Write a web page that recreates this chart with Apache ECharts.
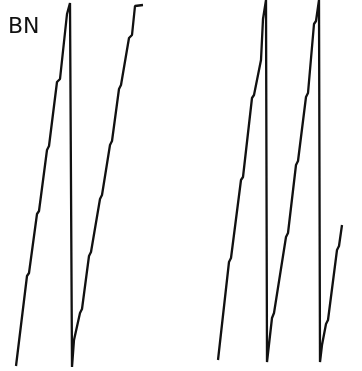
<!DOCTYPE html>
<html>
<head>
<meta charset="utf-8">
<script src="https://cdn.jsdelivr.net/npm/echarts@6/dist/echarts.min.js"></script>
<style>
html,body{margin:0;padding:0;background:#fff;}
#chart{width:362px;height:371px;}
</style>
</head>
<body>
<div id="chart"></div>
<script>
// Trace label
var traceLabel = 'BN';
// Left trace (time, amplitude) — sawtooth with steps
var leftX = [16, 27, 29, 37, 39, 47, 49, 57, 60, 67, 68, 70, 71, 72, 74, 80, 82, 89, 91, 100, 102, 110, 112, 119, 121, 129, 132, 135, 143];
var leftY = [5, 95, 98, 157, 160, 221, 225, 289, 292, 357, 359, 368, 367, 4, 31, 58, 62, 115, 119, 172, 176, 226, 230, 282, 286, 333, 336, 365, 366];
// Right trace
var rightX = [218, 229, 231, 241, 243, 252, 254, 261, 263, 265, 266, 267, 267, 272, 274, 286, 288, 296, 298, 306, 308, 314, 316, 319, 320, 320, 322, 326, 328, 337, 339, 342];
var rightY = [11, 109, 113, 191, 194, 273, 276, 311, 352, 354, 371, 370, 9, 53, 58, 134, 138, 206, 210, 274, 278, 347, 350, 371, 370, 9, 26, 47, 51, 121, 125, 146];

function pairs(xs, ys) { return xs.map(function (x, i) { return [x, ys[i]]; }); }

var chart = echarts.init(document.getElementById('chart'));
chart.setOption({
  animation: false,
  grid: { left: 0, right: 0, top: 0, bottom: 0 },
  xAxis: { type: 'value', min: 0, max: 362, show: false },
  yAxis: { type: 'value', min: 0, max: 371, show: false },
  graphic: [{
    type: 'text', x: 8, y: 27,
    style: { text: traceLabel, fontSize: 22, fontFamily: 'DejaVu Sans', fill: '#111', verticalAlign: 'middle' }
  }],
  series: [
    { type: 'line', data: pairs(leftX, leftY), showSymbol: false, symbol: 'none',
      lineStyle: { color: '#111', width: 2.3 }, clip: false },
    { type: 'line', data: pairs(rightX, rightY), showSymbol: false, symbol: 'none',
      lineStyle: { color: '#111', width: 2.3 }, clip: false }
  ]
});
</script>
</body>
</html>
